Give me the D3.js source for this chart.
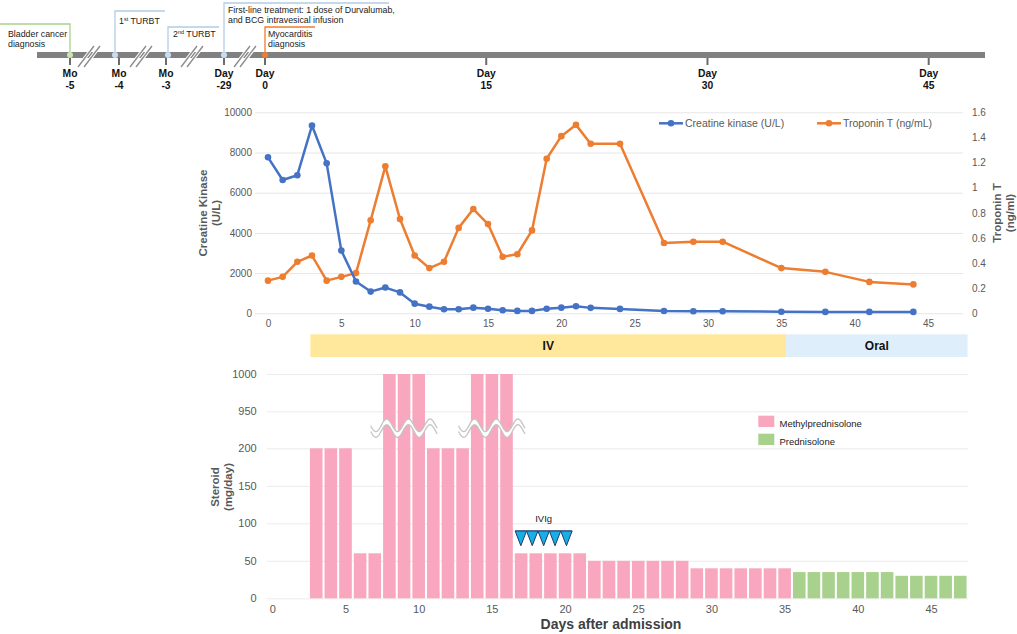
<!DOCTYPE html>
<html>
<head>
<meta charset="utf-8">
<script src="https://cdn.jsdelivr.net/npm/d3@7"></script>
<style>
  html, body { margin: 0; padding: 0; background: #fff; }
  svg { display: block; font-family: "Liberation Sans", Arial, Helvetica, sans-serif; }
  .axis text { fill: #595959; }
  .axis .domain { display: none; }
</style>
</head>
<body>
<svg id="chart" width="1017" height="634"></svg>
<script>
// ---------------- DATA ----------------
// Timeline
const preTicks = ["Mo -5", "Mo -4", "Mo -3", "Day -29"];
const dayTicks = [0, 15, 30, 45];
const eventLabels = [
  ["Bladder cancer", "diagnosis"],
  ["1st TURBT"],
  ["2nd TURBT"],
  ["First-line treatment: 1 dose of Durvalumab,", "and BCG intravesical infusion"],
  ["Myocarditis", "diagnosis"]
];

// Lab values
const labDays = [0,1,2,3,4,5,6,7,8,9,10,11,12,13,14,15,16,17,18,19,20,21,22,24,27,29,31,35,38,41,44];
const creatineKinase = [7760,6630,6870,9340,7460,3120,1580,1080,1280,1040,480,330,200,200,280,230,150,120,120,230,280,350,270,220,115,100,100,80,70,70,70];
const troponinT = [0.26,0.29,0.41,0.46,0.26,0.29,0.32,0.74,1.17,0.75,0.46,0.36,0.41,0.68,0.83,0.71,0.45,0.47,0.66,1.23,1.41,1.50,1.35,1.35,0.56,0.57,0.57,0.36,0.33,0.25,0.23];
const ckTicks = [0,2000,4000,6000,8000,10000];
const tnTicks = [0,0.2,0.4,0.6,0.8,1,1.2,1.4,1.6];
const dayAxisTicks = [0,5,10,15,20,25,30,35,40,45];

// Steroid
const methylDays = [3,4,5,6,7,8,9,10,11,12,13,14,15,16,17,18,19,20,21,22,23,24,25,26,27,28,29,30,31,32,33,34,35];
const methylDose = [200,200,200,60,60,1000,1000,1000,200,200,200,1000,1000,1000,60,60,60,60,60,50,50,50,50,50,50,50,40,40,40,40,40,40,40];
const predDays = [36,37,38,39,40,41,42,43,44,45,46,47];
const predDose = [35,35,35,35,35,35,35,30,30,30,30,30];
const steroidTicks = [0,50,100,150,200,950,1000];
const ivigDays = [17,18,19,20,21];
const phases = ["IV", "Oral"];
const phaseStart = [2.6, 35.1];
const phaseEnd = [35.1, 47.5];
const brokenGroups = [[8,9,10],[14,15,16]];

// ---------------- DRAW ----------------
const svg = d3.select("#chart");
const FONT = '"Liberation Sans", Arial, Helvetica, sans-serif';

// ===== Timeline =====
const tlDay = d3.scaleLinear().domain([0, 45]).range([265, 928.7]);
const tlPre = d3.scaleOrdinal().domain(preTicks).range([70, 119, 166, 224]);
const tl = svg.append("g");
tl.append("rect").attr("x", 37).attr("y", 52).attr("width", 948).attr("height", 6).attr("fill", "#808080");

const allTicks = preTicks.map(t => ({lab: t.split(" "), x: tlPre(t)}))
  .concat(dayTicks.map(d => ({lab: ["Day", String(d)], x: tlDay(d)})));
const tg = tl.selectAll("g.tt").data(allTicks).join("g").attr("class", "tt")
  .attr("transform", d => `translate(${d.x},0)`);
tg.append("line").attr("y1", 58).attr("y2", 65).attr("stroke", "#6b6b6b").attr("stroke-width", 2);
tg.append("text").attr("y", 77).attr("text-anchor", "middle").attr("font-weight", "bold")
  .attr("font-size", 10.3).attr("fill", "#111").text(d => d.lab[0]);
tg.append("text").attr("y", 88.5).attr("text-anchor", "middle").attr("font-weight", "bold")
  .attr("font-size", 10.3).attr("fill", "#111").text(d => d.lab[1]);

// break slashes
[89, 141, 192, 245].forEach(bx => {
  [-11, -5].forEach(o => {
    tl.append("line").attr("x1", bx + o).attr("y1", 67).attr("x2", bx + o + 16).attr("y2", 46)
      .attr("stroke", "#fff").attr("stroke-width", 3.5);
  });
  [-11, -5].forEach(o => {
    tl.append("line").attr("x1", bx + o).attr("y1", 67).attr("x2", bx + o + 16).attr("y2", 46)
      .attr("stroke", "#8a8a8a").attr("stroke-width", 1.3);
  });
});

// event flags
const flags = [
  {x: tlPre("Mo -5"), path: x => `M0,24H${x}V55`, color: "#a9d18e", fill: "#c9e4b5", tx: 8, ty: [37, 47]},
  {x: 115, path: x => `M${x},55V11H165`, color: "#b4cde6", fill: "#c8ddf1", tx: 119, ty: [24]},
  {x: 168, path: x => `M${x},55V27H219`, color: "#b4cde6", fill: "#c8ddf1", tx: 173, ty: [37]},
  {x: tlPre("Day -29"), path: x => `M${x},55V3H389`, color: "#b4cde6", fill: "#c8ddf1", tx: 228, ty: [13, 22.5]},
  {x: tlDay(0), path: x => `M${x},55V27H315`, color: "#ed7d31", fill: "#ed7d31", tx: 268, ty: [37, 47]}
];
flags.forEach((f, i) => {
  tl.append("path").attr("d", f.path(f.x)).attr("fill", "none").attr("stroke", f.color).attr("stroke-width", 1.3);
  tl.append("circle").attr("cx", f.x).attr("cy", 55).attr("r", 3).attr("fill", f.fill);
  eventLabels[i].forEach((line, j) => {
    const t = tl.append("text").attr("x", f.tx).attr("y", f.ty[j]).attr("font-size", 8.8).attr("fill", "#222");
    const m = line.match(/^(\d)(st|nd)(.*)$/);
    if (m) {
      t.append("tspan").text(m[1]);
      t.append("tspan").attr("font-size", 5.5).attr("dy", -3).text(m[2]);
      t.append("tspan").attr("dy", 3).text(m[3]);
    } else {
      t.text(line);
    }
  });
});

// ===== Top chart: CK and Troponin =====
const x1 = d3.scaleLinear().domain([0, 45]).range([268, 928]);
const yCK = d3.scaleLinear().domain([0, 10000]).range([313.3, 112.3]);
const yTn = d3.scaleLinear().domain([0, 1.6]).range([313.3, 112.3]);
const gridL = 255, gridR = 963;

svg.append("g").attr("class", "axis").attr("transform", `translate(${gridL},0)`)
  .call(d3.axisLeft(yCK).tickValues(ckTicks).tickSize(-(gridR - gridL)).tickPadding(3).tickFormat(d3.format("d")))
  .call(g => g.selectAll(".tick line").attr("stroke", "#e6e6e6"))
  .call(g => g.selectAll(".tick text").attr("font-size", 10).attr("font-family", FONT));

svg.append("g").attr("class", "axis").attr("transform", `translate(972,0)`)
  .call(d3.axisRight(yTn).tickValues(tnTicks).tickSize(0).tickPadding(0).tickFormat(d => String(+d.toFixed(1))))
  .call(g => g.selectAll(".tick text").attr("font-size", 10).attr("font-family", FONT));

svg.append("g").attr("class", "axis").attr("transform", `translate(0,318)`)
  .call(d3.axisBottom(x1).tickValues(dayAxisTicks).tickSize(0).tickPadding(2))
  .call(g => g.selectAll(".tick text").attr("font-size", 10).attr("font-family", FONT));

const ckData = labDays.map((d, i) => ({d, v: creatineKinase[i]}));
const tnData = labDays.map((d, i) => ({d, v: troponinT[i]}));
const BLUE = "#4472c4", ORANGE = "#ed7d31";

svg.append("path").datum(tnData).attr("fill", "none").attr("stroke", ORANGE).attr("stroke-width", 2.5)
  .attr("stroke-linejoin", "round").attr("d", d3.line().x(p => x1(p.d)).y(p => yTn(p.v)));
svg.append("g").selectAll("circle").data(tnData).join("circle")
  .attr("cx", p => x1(p.d)).attr("cy", p => yTn(p.v)).attr("r", 3.3).attr("fill", ORANGE);

svg.append("path").datum(ckData).attr("fill", "none").attr("stroke", BLUE).attr("stroke-width", 2.5)
  .attr("stroke-linejoin", "round").attr("d", d3.line().x(p => x1(p.d)).y(p => yCK(p.v)));
svg.append("g").selectAll("circle").data(ckData).join("circle")
  .attr("cx", p => x1(p.d)).attr("cy", p => yCK(p.v)).attr("r", 3.3).attr("fill", BLUE);

// top legend
[[659, BLUE, "Creatine kinase (U/L)"], [817, ORANGE, "Troponin T (ng/mL)"]].forEach(([lx, c, t]) => {
  svg.append("line").attr("x1", lx).attr("x2", lx + 24).attr("y1", 123.3).attr("y2", 123.3).attr("stroke", c).attr("stroke-width", 2.5);
  svg.append("circle").attr("cx", lx + 12).attr("cy", 123.3).attr("r", 3.3).attr("fill", c);
  svg.append("text").attr("x", lx + 26).attr("y", 127).attr("font-size", 10.5).attr("fill", "#595959").text(t);
});

// axis titles
function vtitle(lines, xs, cy) {
  lines.forEach((l, i) => {
    svg.append("text").attr("transform", `translate(${xs[i]},${cy}) rotate(-90)`)
      .attr("text-anchor", "middle").attr("font-weight", "bold").attr("font-size", 11.5)
      .attr("fill", "#595959").text(l);
  });
}
vtitle(["Creatine Kinase", "(U/L)"], [207, 220], 213);
vtitle(["Troponin T", "(ng/ml)"], [1001, 1013.5], 213);

// ===== Bottom chart: steroids =====
const x2 = d3.scaleLinear().domain([0, 45]).range([272.3, 931]);
const yS = d3.scaleLinear().domain([0, 200, 950, 1000]).range([598.3, 448.3, 411.3, 374]);
const g2L = 266.7, g2R = 968.3;
const barW = 12.6;

// phase band
const phaseColors = ["#ffe89c", "#deeefb"];
phases.forEach((p, i) => {
  svg.append("rect").attr("x", x2(phaseStart[i])).attr("y", 334.3)
    .attr("width", x2(phaseEnd[i]) - x2(phaseStart[i])).attr("height", 22.7).attr("fill", phaseColors[i]);
  svg.append("text").attr("x", x2((phaseStart[i] + phaseEnd[i]) / 2)).attr("y", 350)
    .attr("text-anchor", "middle").attr("font-weight", "bold").attr("font-size", 12).attr("fill", "#111").text(p);
});

svg.append("g").attr("class", "axis").attr("transform", `translate(${g2L},0)`)
  .call(d3.axisLeft(yS).tickValues(steroidTicks).tickSize(-(g2R - g2L)).tickPadding(10).tickFormat(d3.format("d")))
  .call(g => g.selectAll(".tick line").attr("stroke", "#ebebeb"))
  .call(g => g.selectAll(".tick text").attr("font-size", 11).attr("font-family", FONT));

svg.append("g").attr("class", "axis").attr("transform", `translate(0,605)`)
  .call(d3.axisBottom(x2).tickValues(dayAxisTicks).tickSize(0).tickPadding(0))
  .call(g => g.selectAll(".tick text").attr("font-size", 11).attr("font-family", FONT));

const methylData = methylDays.map((d, i) => ({d, v: methylDose[i]}));
const predData = predDays.map((d, i) => ({d, v: predDose[i]}));
const PINK = "#f8a7be", GREEN = "#a9d18e";
svg.append("g").selectAll("rect").data(methylData).join("rect")
  .attr("x", p => x2(p.d) - barW / 2).attr("width", barW)
  .attr("y", p => yS(p.v)).attr("height", p => yS(0) - yS(p.v)).attr("fill", PINK);
svg.append("g").selectAll("rect").data(predData).join("rect")
  .attr("x", p => x2(p.d) - barW / 2).attr("width", barW)
  .attr("y", p => yS(p.v)).attr("height", p => yS(0) - yS(p.v)).attr("fill", GREEN);

// wavy axis-break marks
brokenGroups.forEach(grp => {
  const c = x2(grp[0]);
  const pts = d3.range(c - 18.7, c + 48.01, 0.5);
  const wave = (x, off) => [x, 425.3 + off - 6.3 * Math.cos(2 * Math.PI * (x - (c - 2.7)) / 21.7)];
  const top = pts.map(x => wave(x, 0));
  const bot = pts.map(x => wave(x, 5.7));
  svg.append("path").attr("d", d3.line()(top.concat(bot.slice().reverse())) + "Z").attr("fill", "#fff");
  [top, bot].forEach(l => svg.append("path").attr("d", d3.line()(l)).attr("fill", "none")
    .attr("stroke", "#c4c4c4").attr("stroke-width", 1.3));
});

// IVIg triangles
const triW = 11.4;
const tx0 = x2(ivigDays[0]) - 6;
svg.append("line").attr("x1", tx0).attr("x2", tx0 + triW * ivigDays.length).attr("y1", 531).attr("y2", 531)
  .attr("stroke", "#1f3c6e").attr("stroke-width", 1.2);
svg.append("g").selectAll("path").data(ivigDays).join("path")
  .attr("d", (d, i) => {
    const l = tx0 + i * triW;
    return `M${l},531L${l + triW},531L${l + triW / 2},545.7Z`;
  })
  .attr("fill", "#1aaee6").attr("stroke", "#1f3c6e").attr("stroke-width", 1);
svg.append("text").attr("x", tx0 + triW * ivigDays.length / 2).attr("y", 522).attr("text-anchor", "middle")
  .attr("font-size", 9.5).attr("fill", "#222").text("IVIg");

// bottom legend
[[PINK, "Methylprednisolone", 415.7], [GREEN, "Prednisolone", 433.7]].forEach(([c, t, y]) => {
  svg.append("rect").attr("x", 758.3).attr("y", y).attr("width", 16).attr("height", 11.3).attr("fill", c);
  svg.append("text").attr("x", 779.5).attr("y", y + 11).attr("font-size", 9.5).attr("fill", "#222").text(t);
});

vtitle(["Steroid", "(mg/day)"], [219, 232], 487);
svg.append("text").attr("x", 611).attr("y", 629).attr("text-anchor", "middle").attr("font-weight", "bold")
  .attr("font-size", 14).attr("fill", "#404040").text("Days after admission");
</script>
</body>
</html>
